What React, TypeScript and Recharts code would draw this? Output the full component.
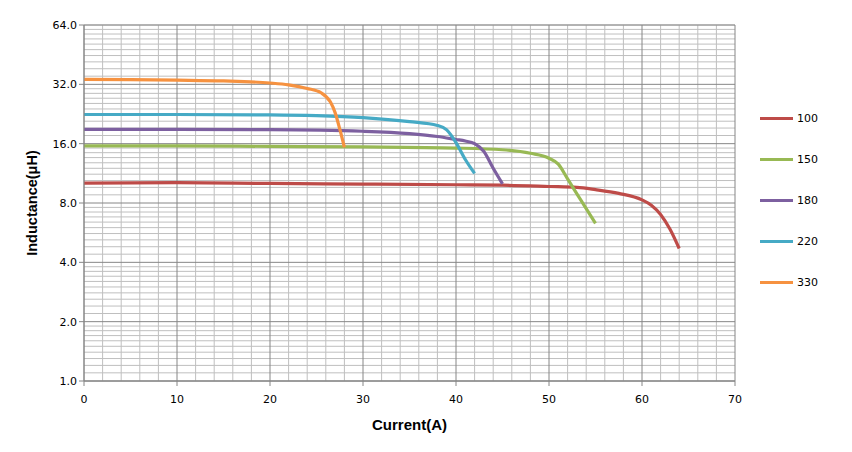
import React from 'react';
import {
  LineChart, Line, XAxis, YAxis, CartesianGrid, Legend,
} from 'recharts';

// readings: [current A, inductance uH]
const s100 = [
  [0, 10.1], [10, 10.15], [20, 10.05], [30, 9.98], [40, 9.9], [45, 9.85], [50, 9.7],
  [53, 9.6], [55, 9.35], [57.5, 8.95], [60, 8.3], [61, 7.8], [62, 7.0], [63, 5.9], [64, 4.7],
];
const s150 = [
  [0, 15.6], [10, 15.6], [20, 15.5], [30, 15.4], [40, 15.2], [45, 14.9], [48, 14.3],
  [50, 13.5], [51, 12.6], [52, 10.6], [53, 8.9], [54, 7.5], [55, 6.3],
];
const s180 = [
  [0, 18.9], [10, 18.9], [20, 18.85], [30, 18.5], [35, 18.0], [38, 17.4], [40, 16.8],
  [41, 16.5], [42, 16.0], [43, 14.6], [44, 12.0], [45, 10.0],
];
const s220 = [
  [0, 22.5], [10, 22.5], [20, 22.4], [25, 22.2], [30, 21.7], [35, 20.7], [38, 19.8],
  [39, 18.8], [40, 16.2], [41, 13.3], [42, 11.3],
];
const s330 = [
  [0, 33.9], [5, 33.8], [10, 33.6], [15, 33.3], [20, 32.5], [22, 31.8], [24, 30.5],
  [25.5, 29.0], [26.5, 26.0], [27, 23.0], [27.5, 19.0], [28, 15.3],
];

const seriesNames = ['100', '150', '180', '220', '330'];
const seriesData = [s100, s150, s180, s220, s330];
const colors = ['#BE4B48', '#98B954', '#7D60A0', '#46AAC5', '#F69240'];

const xTicks = [0, 10, 20, 30, 40, 50, 60, 70];
const yTicks = [1, 2, 4, 8, 16, 32, 64];

// grid positions (minor = every 2 A, and 1.1..1.9 x each octave)
const xMinor: number[] = [];
for (let v = 2; v < 70; v += 2) if (v % 10 !== 0) xMinor.push(v);
const yMinor: number[] = [];
for (let b = 1; b < 64; b *= 2) for (let k = 1; k <= 9; k++) yMinor.push(b * (1 + k / 10));

const toPoints = (arr: number[][]) => arr.map(([x, y]) => ({ x, y }));

function LegendBox() {
  return (
    <div style={{ fontFamily: 'DejaVu Sans', fontSize: 11, color: '#000' }}>
      {seriesNames.map((n, i) => (
        <div key={n} style={{ display: 'flex', alignItems: 'center', height: 41 }}>
          <div style={{ width: 33, height: 3, background: colors[i], marginRight: 4 }} />
          <span>{n}</span>
        </div>
      ))}
    </div>
  );
}

export default function App() {
  return (
    <div style={{ position: 'absolute', left: 0, top: 0, background: '#fff' }}>
      <LineChart width={852} height={452} margin={{ top: 25, right: 37, left: 20, bottom: 14 }}>
        <CartesianGrid stroke="#BFBFBF" strokeWidth={1} yAxisId="minor" horizontal={false} verticalValues={xMinor} />
        <CartesianGrid stroke="#BFBFBF" strokeWidth={1} yAxisId="minor" vertical={false} />
        <CartesianGrid stroke="#868686" strokeWidth={1} />
        <YAxis yAxisId="minor" type="number" scale="log" domain={[1, 64]} ticks={yMinor} interval={0} hide allowDataOverflow />
        <XAxis
          type="number" dataKey="x" domain={[0, 70]} ticks={xTicks} allowDataOverflow interval={0}
          stroke="#868686" tickSize={5} tickMargin={9} height={57}
          tick={{ fill: '#000', fontSize: 11, fontFamily: 'DejaVu Sans' }}
          label={{ value: 'Current(A)', position: 'insideBottom', offset: 8, fill: '#000', fontSize: 15, fontWeight: 'bold', fontFamily: 'Liberation Sans' }}
        />
        <YAxis
          type="number" dataKey="y" scale="log" domain={[1, 64]} ticks={yTicks} allowDataOverflow interval={0}
          stroke="#868686" tickSize={5} width={64}
          tickFormatter={(v) => Number(v).toFixed(1)}
          tick={{ fill: '#000', fontSize: 11, fontFamily: 'DejaVu Sans' }}
          label={{ value: 'Inductance(μH)', angle: -90, position: 'insideLeft', offset: 12, style: { textAnchor: 'middle' }, fill: '#000', fontSize: 14.5, fontWeight: 'bold', fontFamily: 'Liberation Sans' }}
        />
        <Legend layout="vertical" align="right" verticalAlign="top" content={() => <LegendBox />}
          wrapperStyle={{ left: 760, top: 98, width: 80 }} />
        {seriesData.map((d, i) => (
          <Line
            key={seriesNames[i]} name={seriesNames[i]} data={toPoints(d)} dataKey="y"
            type="monotone" stroke={colors[i]} strokeWidth={3.2} dot={false}
            isAnimationActive={false}
          />
        ))}
      </LineChart>
    </div>
  );
}
